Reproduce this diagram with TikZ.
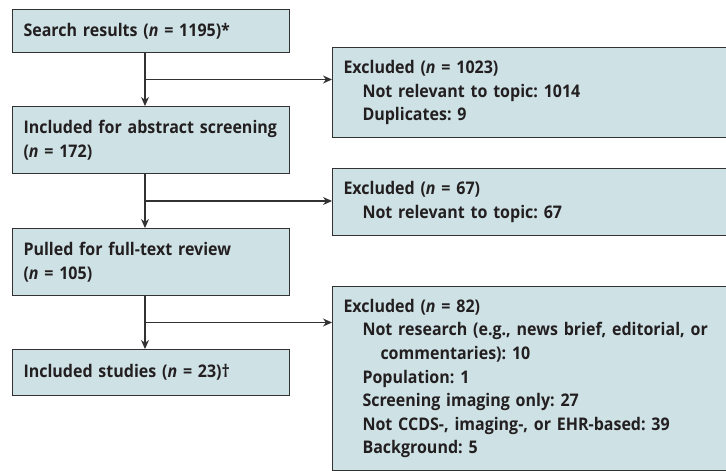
\documentclass[tikz,border=0pt]{standalone}
\usepackage{fontspec}
\setmainfont{Open Sans}[FakeStretch=0.92]
\frenchspacing
\hyphenpenalty=10000
\usetikzlibrary{calc,arrows.meta}
\definecolor{boxfill}{RGB}{206,226,230}
\definecolor{edge}{RGB}{50,50,50}
\definecolor{ink}{RGB}{35,31,32}
\tikzset{
  box/.style={draw=edge, line width=1pt, fill=boxfill, anchor=north west,
    inner xsep=11pt, inner ysep=0pt, align=left, text=ink,
    font=\fontsize{17.4}{23.6}\selectfont\bfseries},
  conn/.style={draw=edge, line width=1.1pt},
  arr/.style={conn, -{Stealth[length=9pt,width=8pt]}}
}
\begin{document}
\begin{tikzpicture}[x=1pt,y=-1pt]
\clip (0,0) rectangle (726,471);
\fill[white] (0,0) rectangle (726,471);
\coordinate (colx) at (145,0);
\node[box, text width=255pt, minimum height=43pt] (s) at (12,9) {\mbox{Search results (\textit{n} = 1195)*}};
\node[box, text width=255pt, minimum height=67pt] (a) at (12,106) {\mbox{Included for abstract screening}\\(\textit{n} = 172)};
\node[box, text width=255pt, minimum height=67pt] (f) at (12,228) {\mbox{Pulled for full-text review}\\(\textit{n} = 105)};
\node[box, text width=255pt, minimum height=46pt] (i) at (12,349) {\mbox{Included studies (\textit{n} = 23)\textdagger}};
\node[box, text width=420pt, minimum height=90pt] (e1) at (332,47) {Excluded (\textit{n} = 1023)\\\hspace*{19pt}Not relevant to topic: 1014\\\hspace*{19pt}Duplicates: 9};
\node[box, text width=420pt, minimum height=67pt] (e2) at (332,168) {Excluded (\textit{n} = 67)\\\hspace*{19pt}Not relevant to topic: 67};
\node[box, text width=420pt, minimum height=184pt] (e3) at (332,286) {Excluded (\textit{n} = 82)\\\hspace*{19pt}\mbox{Not research (e.g., news brief, editorial, or}\\\hspace*{37pt}commentaries): 10\\\hspace*{19pt}Population: 1\\\hspace*{19pt}Screening imaging only: 27\\\hspace*{19pt}Not CCDS-, imaging-, or EHR-based: 39\\\hspace*{19pt}Background: 5};
\draw[arr] (s.south -| colx) -- (a.north -| colx);
\draw[arr] (a.south -| colx) -- (f.north -| colx);
\draw[arr] (f.south -| colx) -- (i.north -| colx);
\coordinate (m1) at ($(s.south -| colx)!0.5!(a.north -| colx)$);
\coordinate (m2) at ($(a.south -| colx)!0.5!(f.north -| colx)$);
\coordinate (m3) at ($(f.south -| colx)!0.5!(i.north -| colx)$);
\draw[arr] (m1) -- (m1 -| e1.west);
\draw[arr] (m2) -- (m2 -| e2.west);
\draw[arr] (m3) -- (m3 -| e3.west);
\end{tikzpicture}
\end{document}
